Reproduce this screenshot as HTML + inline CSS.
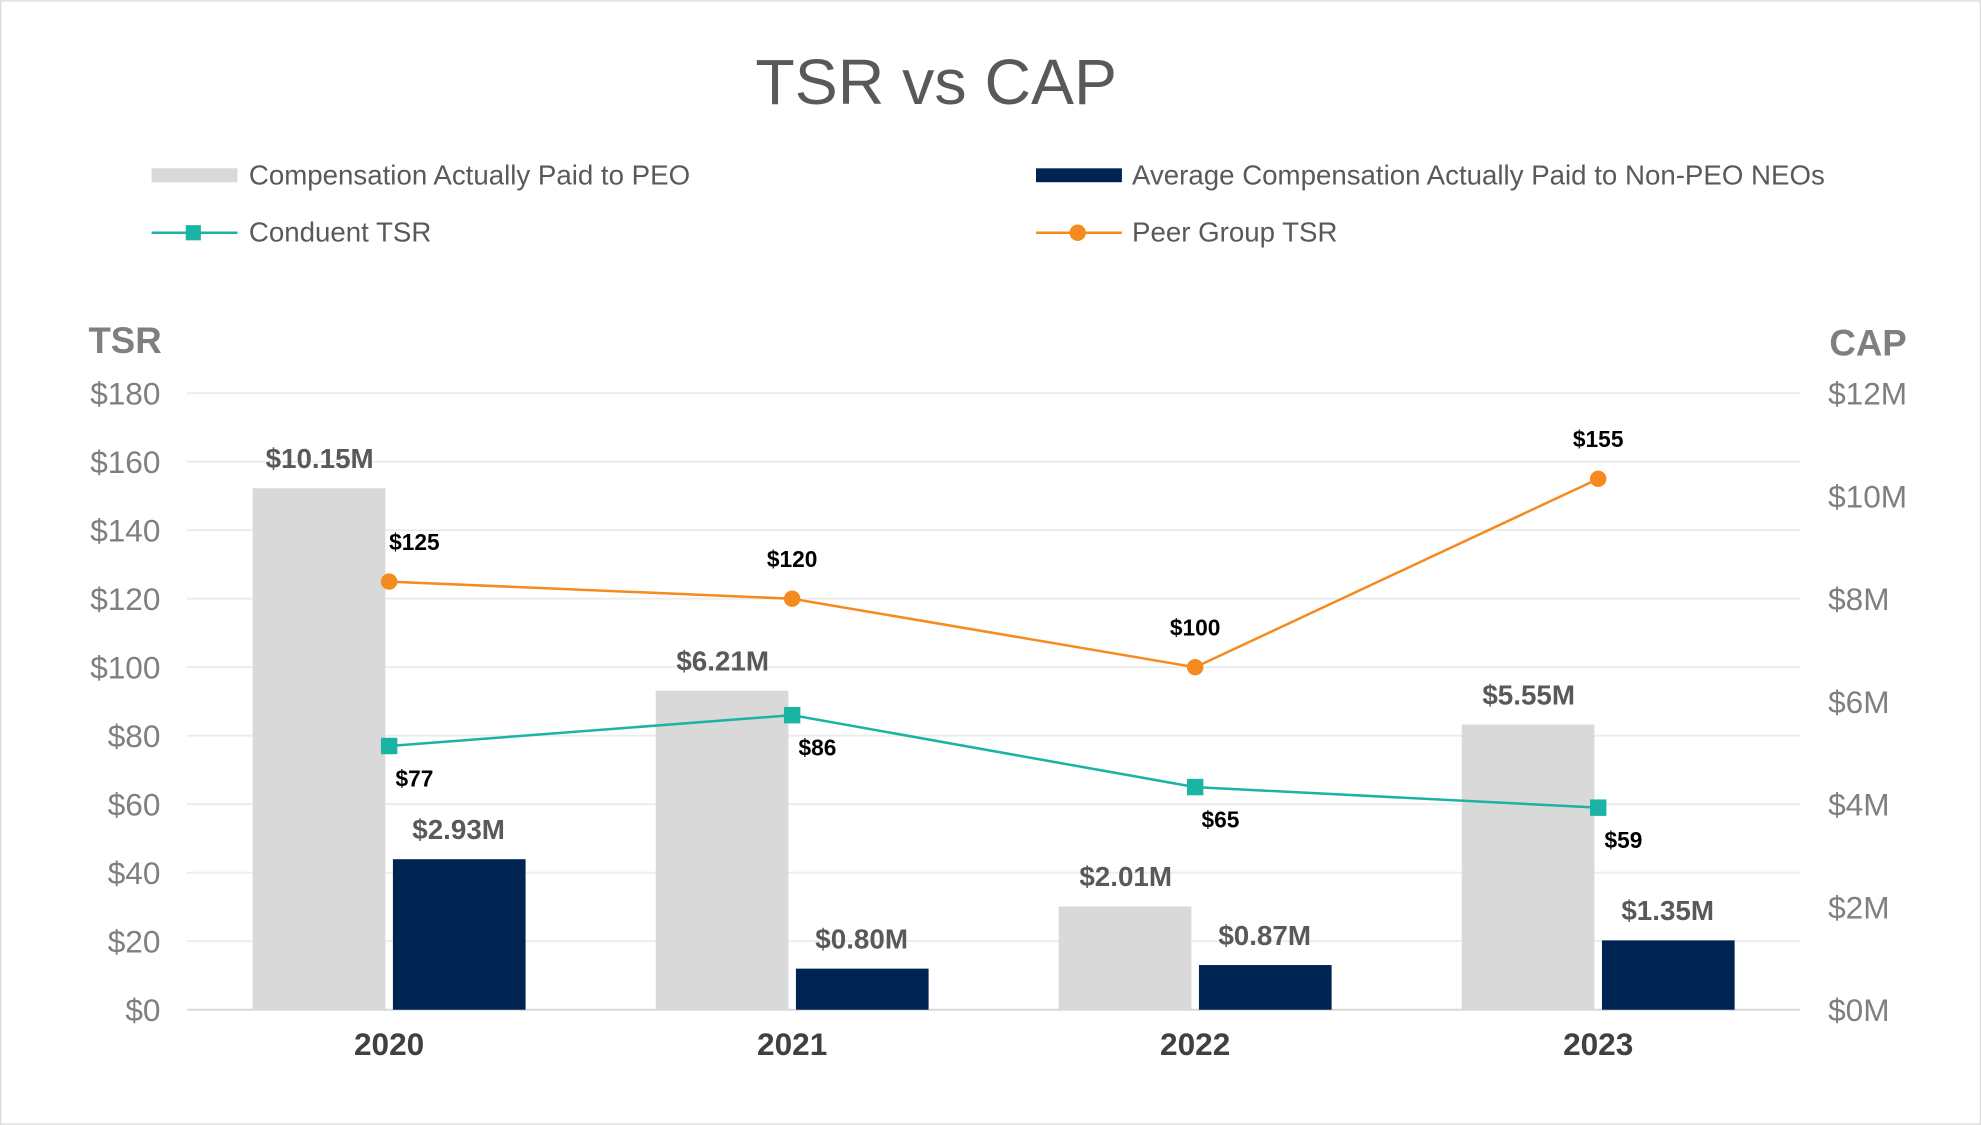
<!DOCTYPE html>
<html><head><meta charset="utf-8"><style>
html,body{margin:0;padding:0;background:#fff}
svg{display:block}
text{font-family:"Liberation Sans",Arial,sans-serif}
</style></head><body>
<svg id="chart" width="1981" height="1125" viewBox="0 0 1568 890" xmlns="http://www.w3.org/2000/svg">
<rect x="0.5" y="0.5" width="1567" height="889" fill="#fff" stroke="#d9d9d9"/>
<text x="741" y="82" text-anchor="middle" font-size="51" fill="#595959">TSR vs CAP</text>
<g>
<g><rect x="120" y="133" width="68" height="11" fill="#d9d9d9"/><text x="197" y="146" font-size="21.9" fill="#595959">Compensation Actually Paid to PEO</text></g>
<g><rect x="820" y="133" width="68" height="11" fill="#002451"/><text x="896" y="146" font-size="21.9" fill="#595959">Average Compensation Actually Paid to Non-PEO NEOs</text></g>
<g><line x1="120" y1="184" x2="188" y2="184" stroke="#1bb3a3" stroke-width="2"/><rect x="147" y="178" width="12" height="12" fill="#1bb3a3"/><text x="197" y="191" font-size="21.9" fill="#595959">Conduent TSR</text></g>
<g><line x1="820" y1="184" x2="888" y2="184" stroke="#f58a1f" stroke-width="2"/><circle cx="853" cy="184" r="6.5" fill="#f58a1f"/><text x="896" y="191" font-size="21.9" fill="#595959">Peer Group TSR</text></g>
</g>
<text x="70" y="279" font-size="29" font-weight="bold" fill="#7f7f7f">TSR</text>
<text x="1448" y="281" font-size="29" font-weight="bold" fill="#7f7f7f">CAP</text>
<g id="grid"></g><g id="bars"></g><g id="lines"></g><g id="labels"></g>
</svg>
<script>
const categories = ["2020","2021","2022","2023"];
const peoCap = [10.15, 6.21, 2.01, 5.55];
const nonPeoCap = [2.93, 0.80, 0.87, 1.35];
const conduentTsr = [77, 86, 65, 59];
const peerTsr = [125, 120, 100, 155];
const leftTicks = [0,20,40,60,80,100,120,140,160,180];
const rightTicks = [0,2,4,6,8,10,12];

const NS="http://www.w3.org/2000/svg";
const plotL=148, plotR=1425, y0=799, yTop=311, firstX=308, step=319;
const yL = v => y0 - v/180*(y0-yTop);
const yR = v => y0 - v/12*(y0-yTop);
const xC = i => firstX + i*step;
function mk(tag, attrs, parent, txt){const e=document.createElementNS(NS,tag);for(const k in attrs)e.setAttribute(k,attrs[k]);if(txt!==undefined)e.textContent=txt;document.getElementById(parent).appendChild(e);return e;}

leftTicks.forEach(t=>{
  const g=mk('line',{x1:plotL,x2:plotR,y1:yL(t),y2:yL(t),stroke:t===0?'#d9d9d9':'#ececec','stroke-width':1.5},'grid');
  
  
  const l=mk('text',{x:127,y:yL(t)+9,'text-anchor':'end','font-size':25,fill:'#7f7f7f'},'grid','$'+t);
  
  
});
rightTicks.forEach(t=>{
  const l=mk('text',{x:1447,y:yR(t)+9,'font-size':25,fill:'#7f7f7f'},'grid','$'+t+'M');
  
  
});
categories.forEach((c,i)=>{
  const l=mk('text',{x:xC(i),y:835,'text-anchor':'middle','font-size':25,'font-weight':'bold',fill:'#404040'},'labels',c);
  
  
  const b1=mk('rect',{x:xC(i)-108,y:yR(peoCap[i]),width:105,height:y0-yR(peoCap[i]),fill:'#d9d9d9'},'bars');
  
  
  const b2=mk('rect',{x:xC(i)+3,y:yR(nonPeoCap[i]),width:105,height:y0-yR(nonPeoCap[i]),fill:'#002451'},'bars');
  
  
  const t1=mk('text',{x:xC(i)-55,y:yR(peoCap[i])-16,'text-anchor':'middle','font-size':22,'font-weight':'bold',fill:'#595959'},'labels','$'+peoCap[i].toFixed(2)+'M');
  
  
  const t2=mk('text',{x:xC(i)+55,y:yR(nonPeoCap[i])-16,'text-anchor':'middle','font-size':22,'font-weight':'bold',fill:'#595959'},'labels','$'+nonPeoCap[i].toFixed(2)+'M');
  
  
});
const pPeer=peerTsr.map((v,i)=>xC(i)+','+yL(v)).join(' ');
const lp=mk('polyline',{points:pPeer,fill:'none',stroke:'#f58a1f','stroke-width':2},'lines');


const pCon=conduentTsr.map((v,i)=>xC(i)+','+yL(v)).join(' ');
const lc=mk('polyline',{points:pCon,fill:'none',stroke:'#1bb3a3','stroke-width':2},'lines');


categories.forEach((c,i)=>{
  const m1=mk('circle',{cx:xC(i),cy:yL(peerTsr[i]),r:6.5,fill:'#f58a1f'},'lines');
  
  
  const m2=mk('rect',{x:xC(i)-6.5,y:yL(conduentTsr[i])-6.5,width:13,height:13,fill:'#1bb3a3'},'lines');
  
  
  const a=mk('text',{x:i===0?xC(i)+20:xC(i),y:yL(peerTsr[i])-25,'text-anchor':'middle','font-size':18,'font-weight':'bold',fill:'#000'},'labels','$'+peerTsr[i]);
  
  
  const b=mk('text',{x:xC(i)+5,y:yL(conduentTsr[i])+32,'font-size':18,'font-weight':'bold',fill:'#000'},'labels','$'+conduentTsr[i]);
  
  
});
</script>
</body></html>
